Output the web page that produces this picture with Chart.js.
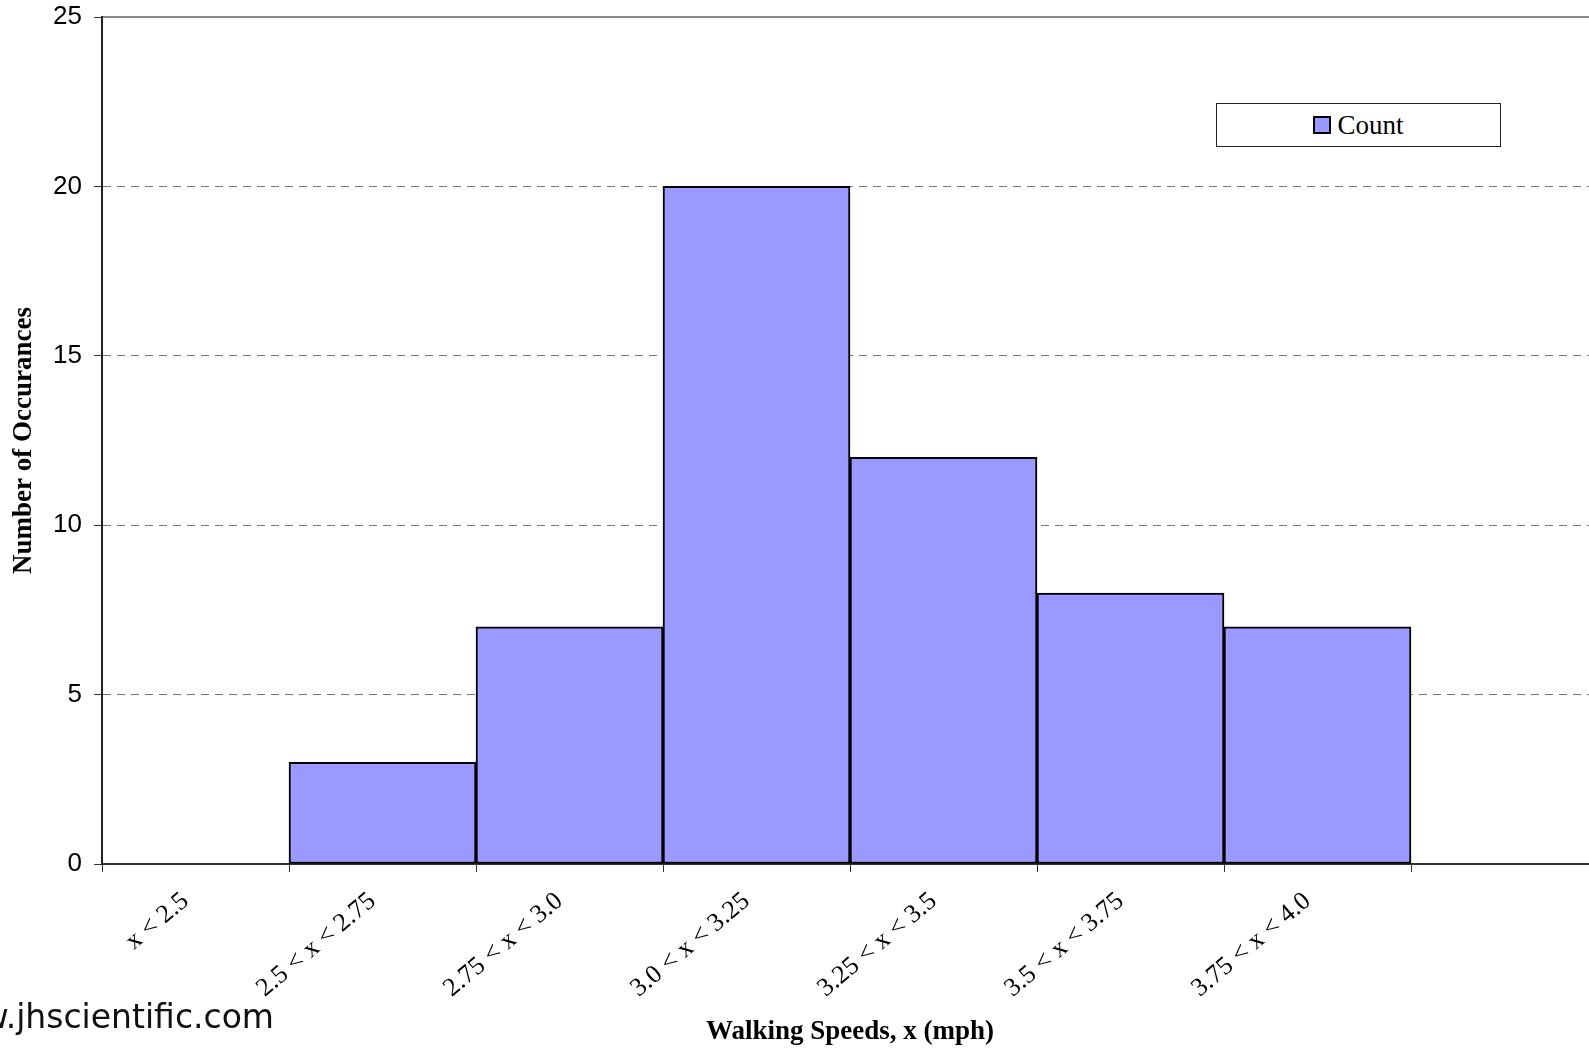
<!DOCTYPE html>
<html>
<head>
<meta charset="utf-8">
<script src="https://cdn.jsdelivr.net/npm/chart.js@4.4.0/dist/chart.umd.min.js"></script>
<style>
  html, body { margin: 0; padding: 0; background: #fff; overflow: hidden; }
  #wrap { position: relative; width: 1589px; height: 1051px; overflow: hidden; }
  #chart { position: absolute; left: 0; top: 0; }
  #legend {
    position: absolute; left: 1216px; top: 103px; width: 283px; height: 42px;
    border: 1px solid #222; background: #fff;
    display: flex; align-items: center; justify-content: center;
    font-family: "Liberation Serif", "Times New Roman", serif; font-size: 27px; color: #000;
  }
  #legend .swatch {
    width: 14px; height: 14px; background: #9999ff; border: 2px solid #000; margin-right: 6px;
  }
  #site {
    position: absolute; right: 1315px; top: 1001px; white-space: nowrap;
    font-family: "DejaVu Sans", sans-serif; font-size: 33px; line-height: 31px; color: #111;
  }
</style>
</head>
<body>
<div id="wrap">
  <canvas id="chart" width="1600" height="1051"></canvas>
  <div id="legend"><span class="swatch"></span><span>Count</span></div>
  <div id="site">www.jhscientific.com</div>
</div>
<script>
// speed bins (the last slot is empty in the original)
const binLabels = ['x < 2.5', '2.5 < x < 2.75', '2.75 < x < 3.0', '3.0 < x < 3.25',
                   '3.25 < x < 3.5', '3.5 < x < 3.75', '3.75 < x < 4.0', ''];
const counts = [0, 3, 7, 20, 12, 8, 7, 0];
const yTicks = [0, 5, 10, 15, 20, 25];

Chart.defaults.font.family = '"Liberation Sans", Arial, sans-serif';
Chart.defaults.color = '#000';

const ctx = document.getElementById('chart').getContext('2d');
new Chart(ctx, {
    type: 'bar',
    data: {
        labels: binLabels,
        datasets: [{
            label: 'Count',
            data: counts,
            backgroundColor: '#9999ff',
            borderColor: '#000',
            borderWidth: 2,
            borderSkipped: false,
            categoryPercentage: 1.0,
            barPercentage: 1.0
        }]
    },
    options: {
        responsive: false,
        animation: false,
        layout: { padding: { left: 0, right: 2, top: 0, bottom: 0 } },
        plugins: {
            legend: { display: false },
            tooltip: { enabled: false }
        },
        scales: {
            x: {
                position: 'bottom',
                grid: {
                    offset: true,
                    drawOnChartArea: false,
                    drawTicks: true,
                    tickLength: 8,
                    tickColor: '#333',
                    tickWidth: 1
                },
                border: { display: true, color: '#333', width: 2 },
                ticks: {
                    autoSkip: false,
                    minRotation: 40,
                    maxRotation: 40,
                    padding: 14,
                    labelOffset: -10,
                    font: { family: '"Liberation Serif", "Times New Roman", serif', size: 26 }
                },
                title: {
                    display: true,
                    text: 'Walking Speeds, x (mph)',
                    font: { family: '"Liberation Serif", "Times New Roman", serif', size: 27, weight: 'bold' },
                    padding: { top: 0, bottom: 3 }
                },
                afterFit: function(scale) {
                    scale.height = 187;
                    scale.paddingLeft = 0;
                    scale.paddingRight = 0;
                }
            },
            x2: {
                type: 'category',
                position: 'top',
                labels: binLabels,
                grid: { display: false, drawTicks: false },
                ticks: { display: false },
                border: { display: true, color: '#888', width: 2 },
                afterFit: function(scale) { scale.height = 17; }
            },
            y: {
                min: 0,
                max: 25,
                afterBuildTicks: function(scale) {
                    scale.ticks = yTicks.map(v => ({ value: v }));
                },
                grid: {
                    color: function(c) {
                        const v = c.tick ? c.tick.value : null;
                        return (v === 0 || v === 25) ? 'rgba(0,0,0,0)' : '#777';
                    },
                    lineWidth: 1,
                    drawTicks: true,
                    tickLength: 8,
                    tickColor: '#333',
                    tickBorderDash: []
                },
                border: { display: true, color: '#222', width: 2, dash: [8, 6] },
                ticks: {
                    padding: 12,
                    font: { size: 26 }
                },
                title: {
                    display: true,
                    text: 'Number of Occurances',
                    font: { family: '"Liberation Serif", "Times New Roman", serif', size: 27, weight: 'bold' },
                    padding: { top: 8, bottom: 0 }
                },
                afterFit: function(scale) {
                    scale.width = 102;
                    scale.paddingTop = 0;
                    scale.paddingBottom = 0;
                }
            }
        }
    }
});
</script>
</body>
</html>
